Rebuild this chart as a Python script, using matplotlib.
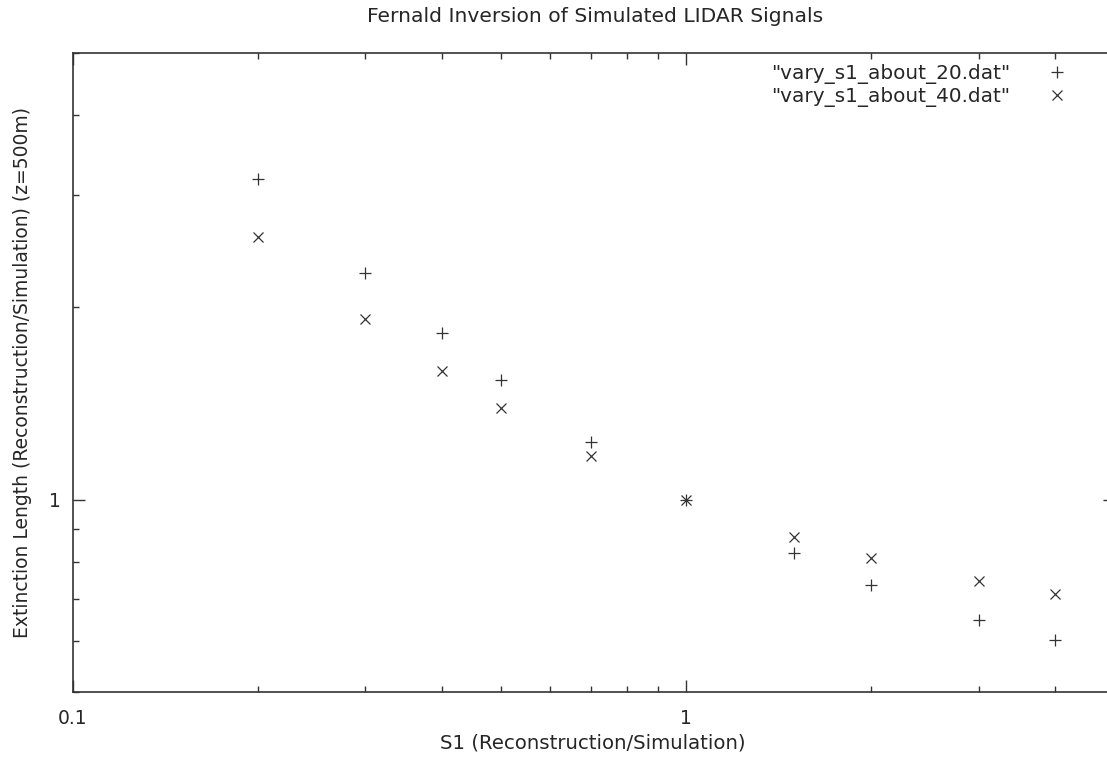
import matplotlib
matplotlib.use("Agg")
import matplotlib.pyplot as plt
from matplotlib.ticker import LogLocator, NullFormatter, FixedLocator, FixedFormatter

plt.rcParams['font.family'] = ['DejaVu Sans']

# S1 ratio values (x) and extinction length ratio for the two files
s1 = [0.2, 0.3, 0.4, 0.5, 0.7, 1.0, 1.5, 2.0, 3.0, 4.0]
about_20 = [3.17, 2.265, 1.82, 1.54, 1.231, 1.0, 0.826, 0.735, 0.647, 0.604]
about_40 = [2.578, 1.918, 1.589, 1.389, 1.172, 1.0, 0.875, 0.81, 0.745, 0.713]

labels = ['"vary_s1_about_20.dat"', '"vary_s1_about_40.dat"']

W, H = 1107, 761
fs = 13.5
fig = plt.figure(figsize=(W / 100, H / 100), dpi=100)
# axes box runs a little past the right edge of the picture, like the original
left, right, top, bottom = 73, 1114.5, 53, 692
ax = fig.add_axes([left / W, 1 - bottom / H, (right - left) / W, (bottom - top) / H])

txt = '#262626'
mk = '#333333'
ax.plot(s1, about_20, linestyle='none', marker='+', markersize=8.5,
        markeredgewidth=0.9, color=mk, label=labels[0])
ax.plot(s1, about_40, linestyle='none', marker='x', markersize=7.5,
        markeredgewidth=0.9, color=mk, label=labels[1])

ax.set_xscale('log')
ax.set_yscale('log')
ax.set_xlim(0.1, 5)
ax.set_ylim(0.5, 5)

ax.xaxis.set_major_locator(FixedLocator([0.1, 1]))
ax.xaxis.set_major_formatter(FixedFormatter(['0.1', '1']))
ax.xaxis.set_minor_locator(LogLocator(base=10, subs=range(2, 10)))
ax.xaxis.set_minor_formatter(NullFormatter())
ax.yaxis.set_major_locator(FixedLocator([1]))
ax.yaxis.set_major_formatter(FixedFormatter(['1']))
ax.yaxis.set_minor_locator(LogLocator(base=10, subs=range(2, 10)))
ax.yaxis.set_minor_formatter(NullFormatter())

ax.tick_params(which='both', direction='in', top=True, right=True,
               color='#333333', width=1.0, labelsize=fs, labelcolor=txt)
ax.tick_params(axis='x', which='major', length=8.5, pad=12)
ax.tick_params(axis='y', which='major', length=8.5, pad=9)
ax.tick_params(which='minor', length=4.3)
for sp in ax.spines.values():
    sp.set_color('#333333')
    sp.set_linewidth(1.2)

ax.set_xlabel('S1 (Reconstruction/Simulation)', fontsize=14.2, color=txt)
ax.set_ylabel('Extinction Length (Reconstruction/Simulation) (z=500m)',
              fontsize=fs, color=txt)
ax.xaxis.set_label_coords((593 - left) / (right - left), -(743 - bottom) / (bottom - top))
ax.yaxis.set_label_coords(-(73 - 23) / (right - left), (bottom - 372) / (bottom - top))
ax.xaxis.label.set_va('center')
ax.yaxis.label.set_va('center')
fig.text(595 / W, 1 - 17 / H, 'Fernald Inversion of Simulated LIDAR Signals',
         ha='center', va='center', fontsize=14.6, color=txt)

leg = ax.legend(loc='upper right', bbox_to_anchor=(1069 / W, 1 - 64 / H),
                bbox_transform=fig.transFigure, frameon=False, markerfirst=False,
                fontsize=14.4, handlelength=1.2, handletextpad=1.75,
                labelspacing=0.15, borderpad=0, borderaxespad=0)
for t in leg.get_texts():
    t.set_color(txt)

fig.savefig('out.png', dpi=100)
